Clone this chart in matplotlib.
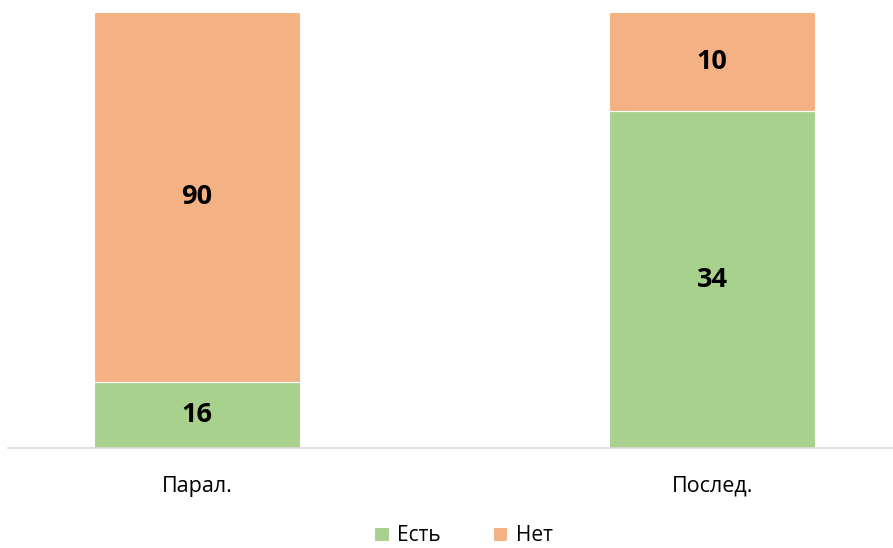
import matplotlib
matplotlib.use("Agg")
import matplotlib.pyplot as plt
import numpy as np

plt.rcParams['font.family'] = ['Open Sans', 'DejaVu Sans']

categories = ["Парал.", "Послед."]
series_names = ["Есть", "Нет"]
est = [16, 34]
net = [90, 10]
colors = ["#A9D18E", "#F4B183"]

est_a = np.array(est, dtype=float)
net_a = np.array(net, dtype=float)
total = est_a + net_a
est_p = est_a / total
net_p = net_a / total

fig = plt.figure(figsize=(8.93, 5.48), dpi=100)
ax = fig.add_axes([0.009, 0.1825, 0.991, 0.7955])

x = np.arange(len(categories))
b1 = ax.bar(x, est_p, width=0.4, color=colors[0], edgecolor="white", linewidth=0.8, label=series_names[0])
b2 = ax.bar(x, net_p, width=0.4, bottom=est_p, color=colors[1], edgecolor="white", linewidth=0.8, label=series_names[1])

for i in range(len(categories)):
    ax.text(x[i], est_p[i] / 2, str(est[i]), ha="center", va="center",
            fontsize=19.5, fontweight="bold", color="black")
    ax.text(x[i], est_p[i] + net_p[i] / 2, str(net[i]), ha="center", va="center",
            fontsize=19.5, fontweight="bold", color="black")

ax.set_xlim(-0.367, 1.351)
ax.set_ylim(0, 1)
ax.set_xticks(x)
ax.set_xticklabels(categories, fontsize=15.5)
ax.tick_params(axis="x", length=0, pad=20)
ax.set_yticks([])
for s in ["top", "right", "left"]:
    ax.spines[s].set_visible(False)
ax.spines["bottom"].set_color("#D9D9D9")
ax.spines["bottom"].set_linewidth(1.2)

fig.legend(handles=[b1, b2], labels=series_names, loc="center", bbox_to_anchor=(0.519, 0.022),
           ncol=2, frameon=False, fontsize=15, handlelength=0.7, handleheight=0.7,
           columnspacing=2.5, handletextpad=0.4, borderpad=0.2)

fig.savefig("out.png", dpi=100)
